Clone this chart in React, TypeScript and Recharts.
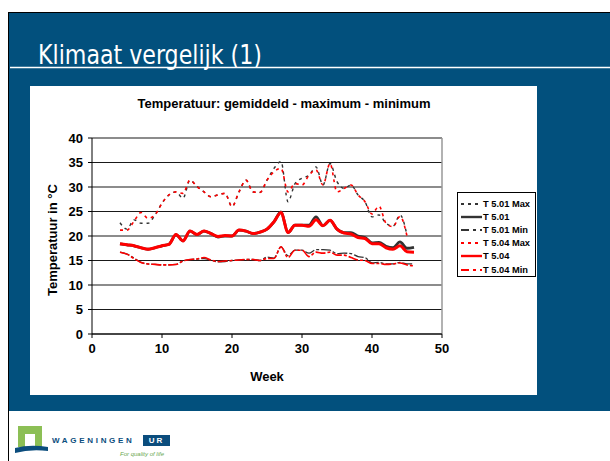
import { LineChart, Line, XAxis, YAxis, CartesianGrid, ReferenceLine } from "recharts"

const weeks = [4, 5, 6, 7, 8, 9, 10, 11, 12, 13, 14, 15, 16, 17, 18, 19, 20, 21, 22, 23, 24, 25, 26, 27, 28, 29, 30, 31, 32, 33, 34, 35, 36, 37, 38, 39, 40, 41, 42, 43, 44, 45, 46]

// T 5.01 (zwart)
const max501 = [22.7, 21.4, 23.3, 22.6, 22.6, 24.3, 26.7, 28.4, 29.0, 27.7, 31.4, 30.1, 29.0, 28.0, 28.4, 28.7, 26.0, 29.0, 31.4, 29.0, 28.9, 31.4, 33.8, 35.2, 27.0, 30.7, 31.8, 32.4, 34.1, 30.4, 34.8, 31.1, 29.7, 30.4, 28.4, 27.0, 23.9, 24.3, 22.6, 22.0, 24.3, 20.2, null]
const mean501 = [18.4, 18.2, 18.0, 17.6, 17.3, 17.6, 18.0, 18.3, 20.3, 19.0, 21.0, 20.3, 21.0, 20.5, 19.8, 20.0, 20.0, 21.2, 21.0, 20.5, 20.8, 21.4, 22.9, 24.9, 20.7, 22.2, 22.2, 22.2, 23.9, 22.1, 23.2, 21.4, 20.7, 20.7, 20.0, 19.7, 18.6, 18.7, 17.9, 17.6, 18.8, 17.5, 17.7]
const min501 = [16.7, 16.3, 15.5, 14.6, 14.3, 14.2, 14.1, 14.1, 14.2, 14.9, 15.2, 15.3, 15.4, 15.1, 14.7, 14.8, 15.0, 15.1, 15.2, 15.2, 15.0, 15.7, 15.5, 17.8, 16.0, 17.1, 17.1, 16.5, 17.2, 17.2, 17.1, 16.4, 16.5, 16.4, 15.8, 15.6, 14.5, 14.6, 14.3, 14.3, 14.6, 14.3, 14.3]

// T 5.04 (rood)
const max504 = [21.2, 21.2, 23.0, 24.8, 23.6, 24.3, 26.7, 28.4, 29.0, 28.7, 31.4, 30.1, 29.0, 28.0, 28.4, 28.7, 26.0, 29.0, 31.4, 29.0, 28.9, 31.4, 33.1, 33.8, 29.0, 30.7, 30.4, 32.4, 33.5, 30.4, 34.8, 29.0, 29.7, 30.4, 28.4, 27.0, 24.5, 26.1, 22.6, 21.9, 24.0, 20.0, null]
const mean504 = [18.4, 18.2, 18.0, 17.6, 17.3, 17.6, 18.0, 18.3, 20.3, 19.0, 21.0, 20.3, 21.0, 20.5, 19.9, 20.1, 20.0, 21.2, 21.0, 20.5, 20.8, 21.4, 22.9, 24.8, 20.7, 22.2, 22.2, 22.0, 23.3, 22.1, 23.2, 21.4, 20.6, 20.4, 19.7, 19.5, 18.4, 18.4, 17.6, 17.3, 18.0, 16.8, 16.7]
const min504 = [16.7, 16.3, 15.4, 14.6, 14.3, 14.2, 14.1, 14.1, 14.2, 14.9, 15.2, 15.3, 15.6, 15.1, 14.8, 14.9, 15.0, 15.1, 15.2, 15.2, 15.0, 15.4, 15.4, 17.8, 15.6, 17.1, 17.1, 15.8, 16.7, 16.5, 16.7, 16.1, 16.1, 15.6, 15.1, 15.0, 14.4, 14.4, 14.2, 14.3, 14.5, 14.1, 13.9]

const xTicks = [0, 10, 20, 30, 40, 50]
const yTicks = [0, 5, 10, 15, 20, 25, 30, 35, 40]

const data = weeks.map((week, i) => ({
  week,
  max501: max501[i],
  mean501: mean501[i],
  min501: min501[i],
  max504: max504[i],
  mean504: mean504[i],
  min504: min504[i],
}))

const series = [
  { key: "max501", name: "T 5.01 Max", color: "#333333", width: 1.4, dash: "3 4" },
  { key: "mean501", name: "T 5.01", color: "#333333", width: 2.8, dash: undefined },
  { key: "min501", name: "T 5.01 Min", color: "#333333", width: 1.3, dash: "10 2 3 2" },
  { key: "max504", name: "T 5.04 Max", color: "#ff0000", width: 1.6, dash: "3 4" },
  { key: "mean504", name: "T 5.04", color: "#ff0000", width: 3, dash: undefined },
  { key: "min504", name: "T 5.04 Min", color: "#ff0000", width: 1.6, dash: "10 2 3 2" },
]

const legendDash = ["3 4", undefined, "8 4 3 4", "3 4", undefined, "8 4 3 4"]

const font = "'Liberation Sans', Arial, sans-serif"
const blue = "#02507d"

function LegendBox() {
  return (
    <div
      style={{
        position: "absolute",
        left: 457,
        top: 192,
        width: 79,
        height: 85,
        border: "1px solid #000",
        background: "#fff",
        fontFamily: font,
        fontWeight: "bold",
        fontSize: 9.3,
        boxSizing: "border-box",
        paddingTop: 4,
        whiteSpace: "nowrap",
      }}
    >
      {series.map((s, i) => (
        <div key={s.key} style={{ display: "flex", alignItems: "center", height: 13.2 }}>
          <svg width={23} height={8} style={{ marginLeft: 2, flexShrink: 0 }}>
            <line x1={1} y1={4} x2={22} y2={4} stroke={s.color} strokeWidth={s.dash ? 2.2 : 2.4} strokeDasharray={legendDash[i]} />
          </svg>
          <span style={{ color: "#000" }}>{s.name}</span>
        </div>
      ))}
    </div>
  )
}

function Logo() {
  return (
    <div style={{ position: "absolute", left: 14, top: 424, width: 200, height: 37 }}>
      <svg width={40} height={32} style={{ position: "absolute", left: 0, top: 0 }}>
        <rect x={4} y={2} width={24} height={21} fill="#8cbf55" />
        <rect x={11} y={10} width={10} height={13} fill="#ffffff" />
        <path d="M1 24 Q 16 20 34 23 L 34 27 Q 16 25 1 29 Z" fill="#0b4d7d" />
      </svg>
      <div
        style={{
          position: "absolute",
          left: 38,
          top: 12,
          fontFamily: font,
          fontWeight: "bold",
          fontSize: 8,
          letterSpacing: 2.7,
          color: "#0b4d7d",
        }}
      >
        WAGENINGEN
      </div>
      <div
        style={{
          position: "absolute",
          left: 129,
          top: 11,
          width: 27,
          height: 11,
          background: "#0b4d7d",
          color: "#fff",
          fontFamily: font,
          fontWeight: "bold",
          fontSize: 8,
          lineHeight: "11px",
          letterSpacing: 2,
          textAlign: "center",
        }}
      >
        UR
      </div>
      <div
        style={{
          position: "absolute",
          left: 106,
          top: 27,
          fontFamily: font,
          fontStyle: "italic",
          fontSize: 6,
          color: "#6aa84f",
        }}
      >
        For quality of life
      </div>
    </div>
  )
}

export default function App() {
  return (
    <div style={{ position: "absolute", left: 0, top: 0, width: 610, height: 461, background: "#fff", overflow: "hidden" }}>
      {/* dia */}
      <div
        style={{
          position: "absolute",
          left: 8,
          top: 12,
          width: 610,
          height: 460,
          borderLeft: "1px solid #000",
          borderTop: "1px solid #000",
          background: "#fff",
        }}
      />
      <div style={{ position: "absolute", left: 9, top: 13, width: 601, height: 398, background: blue }} />
      <svg style={{ position: "absolute", left: 0, top: 0 }} width={610} height={80}>
        <text
          x={38}
          y={64}
          fill="#fff"
          fontFamily="'Liberation Sans Narrow', 'DejaVu Sans Condensed', sans-serif"
          fontSize={26}
          textLength={224}
          lengthAdjust="spacingAndGlyphs"
        >
          Klimaat vergelijk (1)
        </text>
        <line x1={10} y1={67.5} x2={610} y2={67.5} stroke="#fff" strokeWidth={1.3} />
      </svg>

      {/* grafiek */}
      <div style={{ position: "absolute", left: 30, top: 86, width: 507, height: 309, background: "#fff" }}>
        <div
          style={{
            position: "absolute",
            left: 0,
            top: 10,
            width: 508,
            textAlign: "center",
            fontFamily: font,
            fontWeight: "bold",
            fontSize: 13,
            color: "#000",
          }}
        >
          Temperatuur: gemiddeld - maximum - minimum
        </div>
        <LineChart
          width={507}
          height={309}
          data={data}
          margin={{ top: 52, right: 95, bottom: 0, left: 16 }}
          style={{ fontFamily: font }}
        >
          <CartesianGrid horizontal vertical={false} stroke="#000" strokeOpacity={0.9} />
          <XAxis
            dataKey="week"
            type="number"
            domain={[0, 50]}
            ticks={xTicks}
            height={61}
            tickSize={4}
            tickMargin={6}
            stroke="#000"
            tick={{ fill: "#000", fontSize: 13, fontWeight: "bold" }}
            label={{ value: "Week", position: "insideBottom", offset: 14, fill: "#000", fontSize: 13, fontWeight: "bold" }}
          />
          <YAxis
            domain={[0, 40]}
            ticks={yTicks}
            width={46}
            tickSize={4}
            tickMargin={5}
            stroke="#000"
            interval={0}
            tick={{ fill: "#000", fontSize: 13, fontWeight: "bold" }}
            label={{
              value: "Temperatuur in °C",
              angle: -90,
              position: "insideLeft",
              offset: 0,
              dx: 6,
              dy: 60,
              fill: "#000",
              fontSize: 13,
              fontWeight: "bold",
            }}
          />
          <ReferenceLine x={50} stroke="#999" strokeWidth={1.5} />
          {series.map((s) => (
            <Line
              key={s.key}
              dataKey={s.key}
              name={s.name}
              type="monotone"
              stroke={s.color}
              strokeWidth={s.width}
              strokeDasharray={s.dash}
              dot={false}
              activeDot={false}
              connectNulls
              isAnimationActive={false}
            />
          ))}
        </LineChart>
      </div>
      <LegendBox />
      <Logo />
    </div>
  )
}
